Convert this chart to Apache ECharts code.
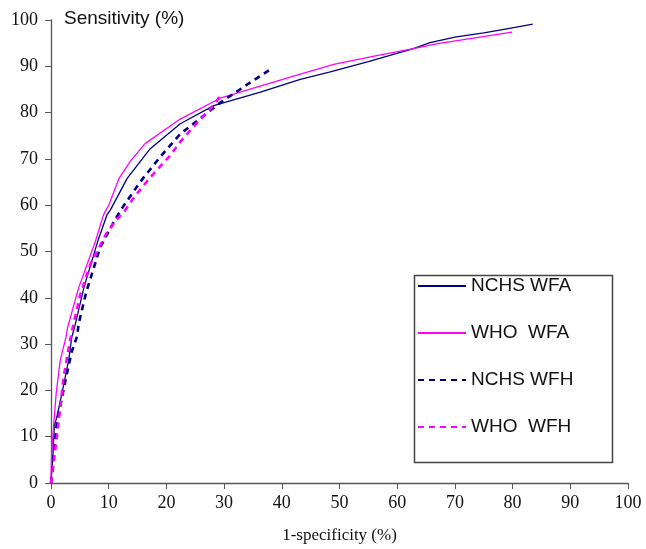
<!DOCTYPE html>
<html>
<head>
<meta charset="utf-8">
<script src="https://cdn.jsdelivr.net/npm/echarts@6/dist/echarts.min.js"></script>
<style>html,body{margin:0;padding:0;background:#fff}#c{width:646px;height:549px}</style>
</head>
<body>
<div id="c"></div>
<script>
var seriesNames = ['NCHS WFA', 'WHO  WFA', 'NCHS WFH', 'WHO  WFH'];
var xTicks = [0, 10, 20, 30, 40, 50, 60, 70, 80, 90, 100];
var yTicks = [0, 10, 20, 30, 40, 50, 60, 70, 80, 90, 100];

var nchsWfaX = [0, 0.3, 0.57, 1.04, 1.9, 3.05, 3.6, 4.1, 5.7, 8.1, 9.7, 10.3, 13.2, 17.2, 22.4, 28.2, 36.3, 43.2, 48.4, 55, 62.8, 65.7, 70, 75, 79, 83.5];
var nchsWfaY = [0.5, 5.2, 12.3, 14.4, 19.4, 26.5, 31.5, 33.7, 42.2, 52.2, 57.9, 59, 65.8, 72.2, 77.6, 81.5, 84.4, 87.2, 88.8, 91, 93.8, 95.1, 96.3, 97.2, 98.1, 99.1];

var whoWfaX = [0, 0.1, 0.45, 0.9, 1.6, 2.6, 2.9, 4.8, 7.7, 9.1, 10, 11.8, 13.7, 16.3, 22.4, 29.3, 43.2, 49, 56, 62.8, 67, 73.2, 79.9];
var whoWfaY = [1, 6, 12.3, 19.4, 26.5, 31.5, 33.7, 42.2, 52.2, 57.9, 60, 65.8, 69.4, 73.3, 78.6, 83.1, 88.3, 90.4, 92.2, 93.8, 94.9, 96.1, 97.4];

var nchsWfhX = [0, 0.3, 0.7, 1.0, 1.6, 2.65, 3.6, 4.5, 4.8, 6.1, 7.7, 8.5, 11.1, 12.5, 15.5, 18.9, 22.4, 25, 29.3, 33.7, 38.1];
var nchsWfhY = [0, 3, 9.4, 12.7, 16.6, 23, 28.4, 31.6, 34.4, 41.2, 47.6, 50.8, 56.9, 59.7, 65.1, 70.4, 75.4, 77.9, 82.1, 85.8, 89.4];

var whoWfhX = [0, 0.1, 0.75, 1.3, 2.2, 3.2, 3.9, 5.1, 6.8, 8.3, 9.5, 11.1, 12.9, 14.5, 17.2, 20.7, 22.4, 24.1, 25.9, 27.9, 29.6];
var whoWfhY = [0, 0.9, 7.3, 13, 23, 30.1, 34.4, 40.8, 47.2, 50.8, 53.7, 56.5, 59, 61.9, 66, 70.8, 73.7, 76.1, 78.6, 81.2, 84];

function zip(xs, ys) { return xs.map(function (x, i) { return [x, ys[i]]; }); }

var navy = '#000080', magenta = '#ff00ff';
var serif = '"Liberation Serif", "Times New Roman", serif';
var sans = '"Liberation Sans", Arial, sans-serif';

var chart = echarts.init(document.getElementById('c'), null, {renderer: 'canvas'});
chart.setOption({
  animation: false,
  backgroundColor: '#fff',
  grid: {left: 51, right: 18, top: 20, bottom: 62, containLabel: false},
  xAxis: {
    type: 'value', min: xTicks[0], max: xTicks[xTicks.length - 1], interval: 10,
    name: '1-specificity (%)', nameLocation: 'middle', nameGap: 44,
    nameTextStyle: {fontFamily: serif, fontSize: 17, color: '#111'},
    axisLine: {lineStyle: {color: '#555', width: 1.3}},
    axisTick: {show: true, inside: false, length: 6, lineStyle: {color: '#555'}},
    axisLabel: {fontFamily: serif, fontSize: 18, color: '#111', margin: 11},
    splitLine: {show: false}
  },
  yAxis: {
    type: 'value', min: yTicks[0], max: yTicks[yTicks.length - 1], interval: 10,
    axisLine: {show: true, lineStyle: {color: '#555', width: 1.3}},
    axisTick: {show: true, inside: false, length: 6, lineStyle: {color: '#555'}},
    axisLabel: {fontFamily: serif, fontSize: 18, color: '#111', margin: 13},
    splitLine: {show: false}
  },
  legend: {
    orient: 'vertical', left: 417, top: 276, padding: 0,
    itemWidth: 48, itemHeight: 20, itemGap: 27,
    itemStyle: {opacity: 0},
    textStyle: {fontFamily: sans, fontSize: 19, color: '#111', lineHeight: 20},
    data: seriesNames
  },
  graphic: [
    {type: 'rect', left: 412, top: 273, shape: {width: 198, height: 187},
     style: {fill: 'none', stroke: '#444', lineWidth: 1.5}, z: 0},
    {type: 'text', left: 64, top: 9,
     style: {text: 'Sensitivity (%)', fontFamily: sans, fontSize: 19, fill: '#111'}}
  ],
  series: [
    {name: seriesNames[0], type: 'line', data: zip(nchsWfaX, nchsWfaY), symbol: 'none', showSymbol: false,
     lineStyle: {color: navy, width: 1.3}, itemStyle: {color: navy}, z: 3},
    {name: seriesNames[1], type: 'line', data: zip(whoWfaX, whoWfaY), symbol: 'none', showSymbol: false,
     lineStyle: {color: magenta, width: 1.3}, itemStyle: {color: magenta}, z: 3},
    {name: seriesNames[2], type: 'line', data: zip(nchsWfhX, nchsWfhY), symbol: 'none', showSymbol: false,
     lineStyle: {color: navy, width: 2.6, type: [6, 5]}, itemStyle: {color: navy}, z: 4},
    {name: seriesNames[3], type: 'line', data: zip(whoWfhX, whoWfhY), symbol: 'none', showSymbol: false,
     lineStyle: {color: magenta, width: 2.6, type: [6, 5]}, itemStyle: {color: magenta}, z: 4}
  ]
});
</script>
</body>
</html>
